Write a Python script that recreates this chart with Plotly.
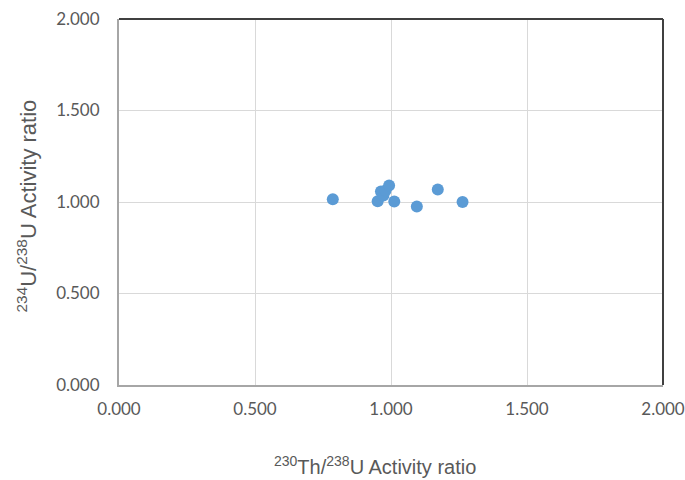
import plotly.graph_objects as go

# 230Th/238U and 234U/238U activity ratios
th230_u238 = [0.786, 0.951, 0.963, 0.972, 0.980, 0.993, 1.012, 1.095, 1.172, 1.263]
u234_u238 = [1.015, 1.004, 1.058, 1.036, 1.063, 1.090, 1.003, 0.975, 1.068, 1.000]

tick_vals = [0.0, 0.5, 1.0, 1.5, 2.0]
tick_text = ["0.000", "0.500", "1.000", "1.500", "2.000"]

x_title = "<sup>230</sup>Th/<sup>238</sup>U Activity ratio"
y_title = "<sup>234</sup>U/<sup>238</sup>U Activity ratio"

fig = go.Figure()
fig.add_trace(go.Scatter(
    x=th230_u238, y=u234_u238, mode="markers",
    marker=dict(size=12, color="#5B9BD5"),
    showlegend=False,
))

tick_font = dict(family="Lato, Open Sans, sans-serif", size=17, color="#595959")
title_family = "Liberation Sans, Arial, sans-serif"

axis_style = dict(
    range=[0, 2], tickvals=tick_vals, ticktext=tick_text, tickfont=tick_font,
    showgrid=True, gridcolor="#d9d9d9", gridwidth=1, zeroline=False,
    showline=True, linecolor="#a6a6a6", linewidth=2, ticks="", automargin=False,
)
fig.update_xaxes(**axis_style, ticklabelstandoff=8)
fig.update_yaxes(**axis_style, ticklabelstandoff=14)

# axis titles
fig.add_annotation(text=x_title, xref="paper", yref="paper", x=0.471, y=-0.22,
                   xanchor="center", yanchor="middle", showarrow=False,
                   font=dict(family=title_family, size=20, color="#595959"))
fig.add_annotation(text=y_title, xref="paper", yref="paper", x=-0.169, y=0.488,
                   xanchor="center", yanchor="middle", showarrow=False, textangle=-90,
                   font=dict(family=title_family, size=22, color="#595959"))

# dark frame along the top and right edges of the plot area
fig.add_shape(type="line", xref="paper", yref="paper", x0=0, x1=1, y0=1, y1=1,
              line=dict(color="#404040", width=2))
fig.add_shape(type="line", xref="paper", yref="paper", x0=1, x1=1, y0=0, y1=1,
              line=dict(color="#404040", width=2))

fig.update_layout(
    width=685, height=480,
    margin=dict(l=119, r=22, t=19, b=95),
    paper_bgcolor="white", plot_bgcolor="white",
)

fig.write_html("out.html")
